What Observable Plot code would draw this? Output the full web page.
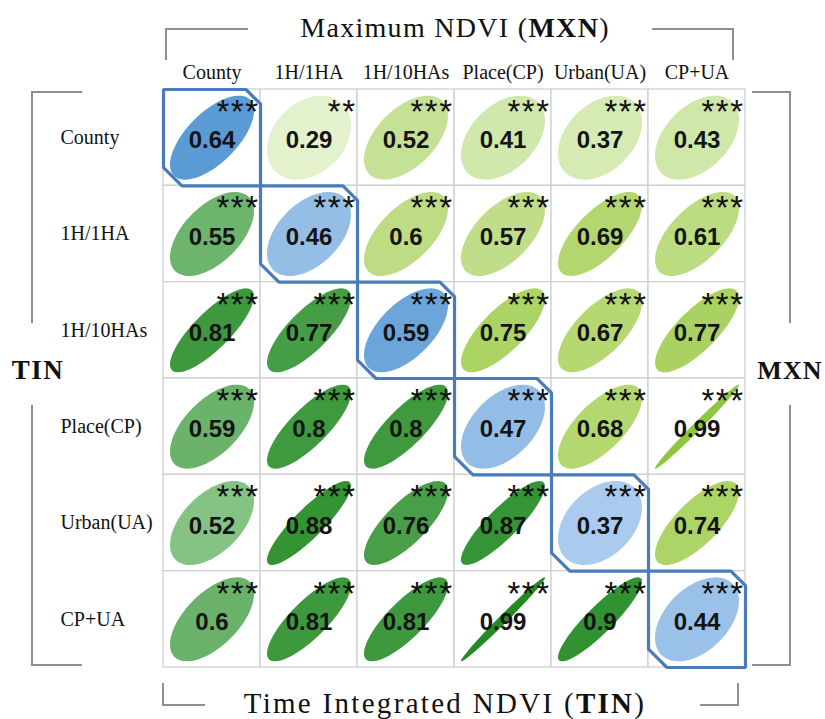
<!DOCTYPE html>
<html><head><meta charset="utf-8">
<script src="https://cdn.jsdelivr.net/npm/d3@7"></script>
<script src="https://cdn.jsdelivr.net/npm/@observablehq/plot@0.6"></script>
<style>body{margin:0;background:#fff}</style>
</head><body><div id="chart"></div>
<script>
// ---- data ----
const categories = ["County", "1H/1HA", "1H/10HAs", "Place(CP)", "Urban(UA)", "CP+UA"];
// rows = TIN (row label), columns = MXN (column label); diagonal = TIN vs MXN
const rowCounty   = [0.64, 0.29, 0.52, 0.41, 0.37, 0.43];
const row1H1HA    = [0.55, 0.46, 0.6,  0.57, 0.69, 0.61];
const row1H10HAs  = [0.81, 0.77, 0.59, 0.75, 0.67, 0.77];
const rowPlace    = [0.59, 0.8,  0.8,  0.47, 0.68, 0.99];
const rowUrban    = [0.52, 0.88, 0.76, 0.87, 0.37, 0.74];
const rowCPUA     = [0.6,  0.81, 0.81, 0.99, 0.9,  0.44];
const starsCounty  = ["***", "**", "***", "***", "***", "***"];
const starsOther   = ["***", "***", "***", "***", "***", "***"];

const rows = [rowCounty, row1H1HA, row1H10HAs, rowPlace, rowUrban, rowCPUA];
const stars = [starsCounty, starsOther, starsOther, starsOther, starsOther, starsOther];

// ---- colour ramps by group ----
const diagColor  = d3.scaleLinear().domain([0.37, 0.47, 0.64]).range(["#aacbee", "#93bde6", "#5b9bd5"]).clamp(true);
const upperColor = d3.scaleLinear().domain([0.29, 0.37, 0.52, 0.69, 0.99]).range(["#e3f1cd", "#d6ebb4", "#c5e195", "#b3d76e", "#8dc641"]).clamp(true);
const lowerColor = d3.scaleLinear().domain([0.52, 0.55, 0.6, 0.8, 0.99]).range(["#84c384", "#6db46d", "#6ab26a", "#3f9a3f", "#248b24"]).clamp(true);

const cells = [];
rows.forEach((vals, r) => vals.forEach((v, c) => {
  const color = r === c ? diagColor(v) : (c > r ? upperColor(v) : lowerColor(v));
  cells.push({r, c, v, key: r + "-" + c, color, stars: stars[r][c], label: String(v)});
}));

// ellipse outlines (corrplot style: axes ∝ sqrt(1±r), rotated 45°)
const sx = 0.433, sy = 0.436, N = 72;
const ellipsePts = [];
for (const d of cells) {
  const a = Math.sqrt(1 + d.v), b = Math.sqrt(1 - d.v);
  for (let i = 0; i < N; i++) {
    const t = 2 * Math.PI * i / N;
    const u = a * Math.cos(t) / Math.SQRT2, w = b * Math.sin(t) / Math.SQRT2;
    ellipsePts.push({key: d.key, color: d.color,
      x: d.c + 0.5 + (u - w) * sx,
      y: d.r + 0.5 - (u + w) * sy});
  }
}

// diagonal outline with chamfered corners
const ct = 0.15, cb = 0.19;
const diagPts = [];
categories.forEach((_, i) => {
  [[i, i], [i + 1 - ct, i], [i + 1, i + ct], [i + 1, i + 1], [i + cb, i + 1], [i, i + 1 - cb]]
    .forEach(([x, y]) => diagPts.push({i, x, y}));
});

const serif = "'Liberation Serif', 'Times New Roman', serif";
const sans = "'Liberation Sans', Arial, sans-serif";

const plot = Plot.plot({
  width: 825, height: 719,
  marginLeft: 163, marginRight: 80, marginTop: 89, marginBottom: 52,
  x: {domain: [0, 6], axis: null},
  y: {domain: [0, 6], axis: null, reverse: true},
  color: {type: "identity"},
  style: {background: "white"},
  marks: [
    Plot.rect(cells, {x1: "c", x2: d => d.c + 1, y1: "r", y2: d => d.r + 1, fill: "white", stroke: "#d0d0d0", strokeWidth: 1.3}),
    Plot.line(ellipsePts, {x: "x", y: "y", z: "key", fill: "color", stroke: null, curve: "linear-closed"}),
    Plot.line(diagPts, {x: "x", y: "y", z: "i", stroke: "#4a7cbb", strokeWidth: 3.2, curve: "linear-closed", strokeLinejoin: "miter"}),
    Plot.text(cells, {x: d => d.c + 0.5, y: d => d.r + 0.5, text: "label", fontSize: 24, fontWeight: "bold", fontFamily: sans, fill: "#141414", lineAnchor: "middle", dy: 3}),
    Plot.text(cells, {x: d => d.c + 1, y: "r", text: "stars", fontSize: 33, fontFamily: sans, fill: "#111", textAnchor: "end", lineAnchor: "top", dx: -1, dy: 10}),
    // column labels (MXN)
    Plot.text(categories, {x: (d, i) => i + 0.5, frameAnchor: "top", dy: -11, lineAnchor: "bottom", text: d => d, fontSize: 20, fontFamily: serif, fill: "#111"}),
    // row labels (TIN)
    Plot.text(categories, {y: (d, i) => i + 0.5, frameAnchor: "left", dx: -103, textAnchor: "start", lineAnchor: "middle", text: d => d, fontSize: 20, fontFamily: serif, fill: "#111"})
  ]
});

document.getElementById("chart").appendChild(plot);
const svg = d3.select(plot);
// spread the significance asterisks a little
svg.selectAll("text").filter(function () { return /^\*+$/.test(this.textContent); })
  .attr("letter-spacing", 1.5);

// brackets
const g = svg.append("g").attr("fill", "none").attr("stroke", "#8f8f8f").attr("stroke-width", 2);
["M166,60V29H248", "M652,29H733V60",
 "M82,92H32V323", "M32,405V665H82",
 "M752,92H790V323", "M790,405V665H752",
 "M163,683V705H205", "M700,705H738V683"].forEach(p => g.append("path").attr("d", p));

// titles
function title(x, y, pre, bold, post, size, ls) {
  const t = svg.append("text").attr("x", x).attr("y", y).attr("text-anchor", "middle")
    .attr("font-family", serif).attr("font-size", size).attr("fill", "#111").attr("letter-spacing", ls);
  t.append("tspan").text(pre);
  t.append("tspan").attr("font-weight", "bold").text(bold);
  t.append("tspan").text(post);
}
title(455, 37, "Maximum NDVI (", "MXN", ")", 28, 1.3);
title(445, 713, "Time Integrated NDVI (", "TIN", ")", 29, 2.3);
svg.append("text").attr("x", 38).attr("y", 379).attr("text-anchor", "middle").attr("font-family", serif)
  .attr("font-weight", "bold").attr("font-size", 27).attr("letter-spacing", 1.5).attr("fill", "#111").text("TIN");
svg.append("text").attr("x", 790).attr("y", 379).attr("text-anchor", "middle").attr("font-family", serif)
  .attr("font-weight", "bold").attr("font-size", 26).attr("letter-spacing", 1.2).attr("fill", "#111").text("MXN");
</script>
</body></html>
